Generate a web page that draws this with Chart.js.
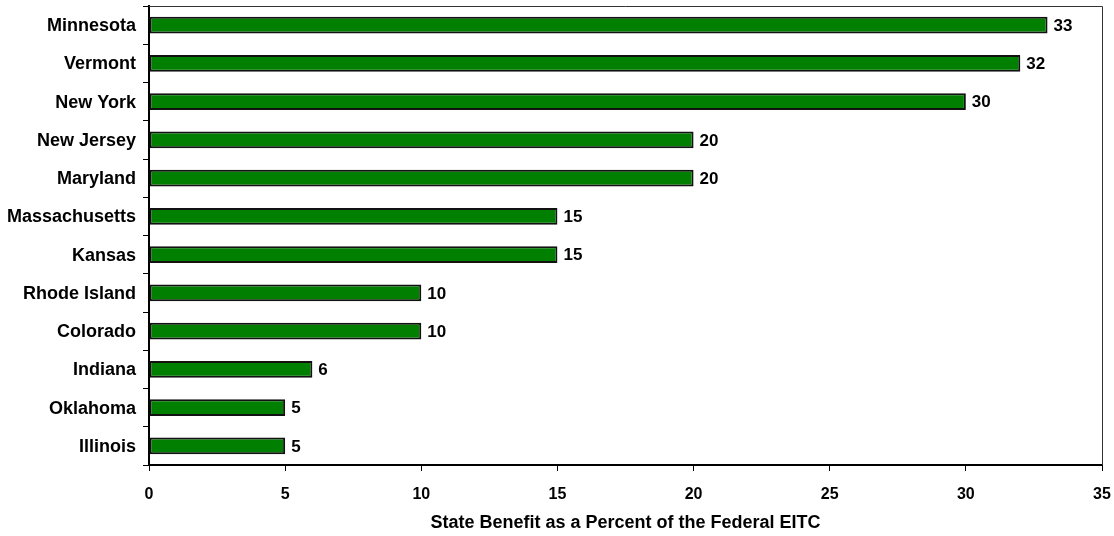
<!DOCTYPE html>
<html lang="en">
<head>
    <meta charset="UTF-8">
    <title>State EITC</title>
    <style>
        body { margin: 0; background: #fff; }
        canvas { display: block; }
    </style>
</head>
<body>
    <canvas id="grafico-eitc" width="1114" height="536"></canvas>

<script src="https://cdn.jsdelivr.net/npm/chart.js"></script>
<script>
    // dados do grafico
    var estados = ['Minnesota', 'Vermont', 'New York', 'New Jersey', 'Maryland', 'Massachusetts',
        'Kansas', 'Rhode Island', 'Colorado', 'Indiana', 'Oklahoma', 'Illinois'];
    var percentuais = [33, 32, 30, 20, 20, 15, 15, 10, 10, 6, 5, 5];
    var eixoX = { min: 0, max: 35, passo: 5 };
    var tituloX = 'State Benefit as a Percent of the Federal EITC';

    var fonte = 'Liberation Sans, Arial, sans-serif';

    // escreve o valor ao lado de cada barra
    var rotulosValores = {
        id: 'rotulosValores',
        afterDatasetsDraw(chart) {
            var ctx = chart.ctx;
            var meta = chart.getDatasetMeta(0);
            ctx.save();
            ctx.font = 'bold 17px ' + fonte;
            ctx.fillStyle = '#000';
            ctx.textAlign = 'left';
            ctx.textBaseline = 'middle';
            meta.data.forEach(function (barra, i) {
                ctx.fillText(percentuais[i], barra.x + 6, barra.y + 1);
            });
            ctx.restore();
        }
    };

    // moldura fina em cima e a direita
    var moldura = {
        id: 'moldura',
        afterDraw(chart) {
            var a = chart.chartArea;
            var ctx = chart.ctx;
            ctx.save();
            ctx.strokeStyle = '#333';
            ctx.lineWidth = 1;
            ctx.beginPath();
            ctx.moveTo(a.left, a.top + 0.5);
            ctx.lineTo(a.right + 0.5, a.top + 0.5);
            ctx.lineTo(a.right + 0.5, a.bottom);
            ctx.stroke();
            ctx.restore();
        }
    };

    var grafico = new Chart(document.getElementById('grafico-eitc'), {
        type: 'bar',
        data: {
            labels: estados,
            datasets: [{
                data: percentuais,
                backgroundColor: '#007f00',
                borderColor: '#111',
                borderWidth: 2,
                borderSkipped: false,
                barPercentage: 0.44,
                categoryPercentage: 1
            }]
        },
        options: {
            indexAxis: 'y',
            responsive: false,
            animation: false,
            devicePixelRatio: 1,
            layout: {
                padding: { top: 6, right: 12, bottom: 0, left: 0 }
            },
            plugins: {
                legend: { display: false },
                tooltip: { enabled: false }
            },
            scales: {
                y: {
                    afterFit: function (scale) {
                        scale.width = 149;
                        scale.paddingTop = 0;
                        scale.paddingBottom = 0;
                    },
                    grid: {
                        drawOnChartArea: false,
                        drawTicks: true,
                        tickLength: 6,
                        color: '#000',
                        lineWidth: 1
                    },
                    border: { color: '#000', width: 2 },
                    ticks: {
                        color: '#000',
                        padding: 7,
                        labelOffset: 1,
                        font: { family: fonte, size: 18, weight: 'bold' }
                    }
                },
                x: {
                    min: eixoX.min,
                    max: eixoX.max,
                    afterFit: function (scale) {
                        scale.height = 71;
                        scale.paddingLeft = 0;
                        scale.paddingRight = 0;
                    },
                    grid: {
                        drawOnChartArea: false,
                        drawTicks: true,
                        tickLength: 6,
                        color: '#000',
                        lineWidth: 1
                    },
                    border: { color: '#000', width: 2 },
                    ticks: {
                        stepSize: eixoX.passo,
                        color: '#000',
                        padding: 14,
                        maxRotation: 0,
                        font: { family: fonte, size: 16, weight: 'bold' }
                    },
                    title: {
                        display: true,
                        text: tituloX,
                        color: '#000',
                        padding: { top: 0, bottom: 2 },
                        font: { family: fonte, size: 18, weight: 'bold' }
                    }
                }
            }
        },
        plugins: [rotulosValores, moldura]
    });
</script>
</body>
</html>
